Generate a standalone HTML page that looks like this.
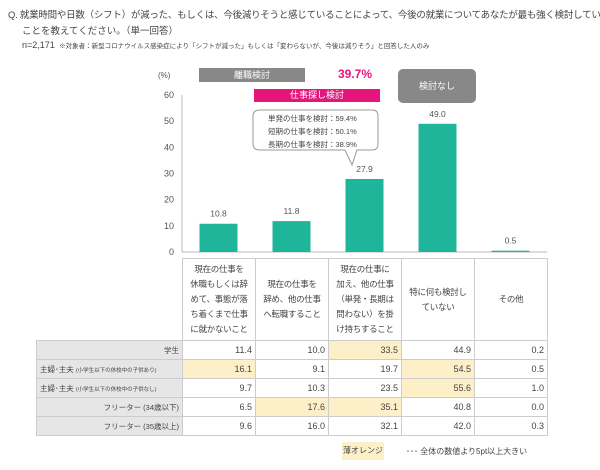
<!DOCTYPE html>
<html><head><meta charset="utf-8"><style>
body{margin:0;width:600px;height:470px;background:#fff;font-family:"Liberation Sans","Noto Sans CJK JP",sans-serif;color:#444;overflow:hidden;position:relative}
.t{position:absolute;white-space:nowrap}
table{position:absolute;left:36px;top:258px;border-collapse:collapse;font-size:9px;table-layout:fixed;width:511px}
td{border:1px solid #ccc;height:19px;padding:0 3px;text-align:right;white-space:nowrap;overflow:hidden;box-sizing:border-box}
td.h{background:#e6e6e6;font-size:7.5px}
td.o{background:#fdefc8}
tr.head td{height:82px;text-align:center;font-size:8.5px;line-height:15px;vertical-align:middle;padding:0;letter-spacing:-0.3px}
tr.head td.blank{border:none;border-bottom:1px solid #ccc;background:none}
</style></head><body>
<div class="t" style="left:8px;top:7px;font-size:9.5px;letter-spacing:-0.25px">Q. 就業時間や日数（シフト）が減った、もしくは、今後減りそうと感じていることによって、今後の就業についてあなたが最も強く検討している</div>
<div class="t" style="left:22px;top:23px;font-size:9.5px">ことを教えてください。（単一回答）</div>
<div class="t" style="left:22px;top:40px;font-size:9px">n=2,171 <span style="font-size:6.5px">&nbsp;※対象者：新型コロナウイルス感染症により「シフトが減った」もしくは「変わらないが、今後は減りそう」と回答した人のみ</span></div>
<svg id="c" width="600" height="470" style="position:absolute;left:0;top:0"></svg>
<table>
<colgroup><col style="width:146px"><col style="width:73px"><col style="width:73px"><col style="width:73px"><col style="width:73px"><col style="width:73px"></colgroup>
<tr class="head"><td class="blank"></td><td>現在の仕事を<br>休職もしくは辞<br>めて、事態が落<br>ち着くまで仕事<br>に就かないこと</td><td>現在の仕事を<br>辞め、他の仕事<br>へ転職すること</td><td>現在の仕事に<br>加え、他の仕事<br>（単発・長期は<br>問わない）を掛<br>け持ちすること</td><td>特に何も検討し<br>ていない</td><td>その他</td></tr>
<tr><td class="h">学生</td><td>11.4</td><td>10.0</td><td class="o">33.5</td><td>44.9</td><td>0.2</td></tr>
<tr><td class="h" style="text-align:left">主婦･主夫 <span style="font-size:5.5px">(小学生以下の休校中の子供あり)</span></td><td class="o">16.1</td><td>9.1</td><td>19.7</td><td class="o">54.5</td><td>0.5</td></tr>
<tr><td class="h" style="text-align:left">主婦･主夫 <span style="font-size:5.5px">(小学生以下の休校中の子供なし)</span></td><td>9.7</td><td>10.3</td><td>23.5</td><td class="o">55.6</td><td>1.0</td></tr>
<tr><td class="h">フリーター (34歳以下)</td><td>6.5</td><td class="o">17.6</td><td class="o">35.1</td><td>40.8</td><td>0.0</td></tr>
<tr><td class="h">フリーター (35歳以上)</td><td>9.6</td><td>16.0</td><td>32.1</td><td>42.0</td><td>0.3</td></tr>
</table>
<div class="t" style="left:342px;top:442px;width:42px;height:18px;background:#fdefc8;font-size:8px;line-height:18px;text-align:center">薄オレンジ</div>
<div class="t" style="left:406px;top:446px;font-size:8px">･･･ 全体の数値より5pt以上大きい</div>
<script>
const categories=["休職・辞職","転職","掛け持ち","検討なし","その他"];
const values=[10.8,11.8,27.9,49.0,0.5];
const ticks=[0,10,20,30,40,50,60];
const svg=document.getElementById('c');const NS="http://www.w3.org/2000/svg";
const y0=252,y60=95,x0=182,cw=73;
const y=v=>y0-(v/60)*(y0-y60);
function mk(t,a,txt){const e=document.createElementNS(NS,t);for(const k in a)e.setAttribute(k,a[k]);if(txt!=null)e.textContent=txt;svg.appendChild(e);return e;}
let ax=mk('line',{x1:x0,y1:y(60),x2:x0,y2:y0,stroke:'#bbb'});


let bl=mk('line',{x1:x0,y1:y0,x2:x0+cw*5,y2:y0,stroke:'#bbb'});


ticks.forEach(t=>{let e=mk('text',{x:x0-8,y:y(t)+3,'text-anchor':'end','font-size':9,fill:'#555'},t);

});
let u=mk('text',{x:158,y:78,'font-size':8,fill:'#555'},'(%)');


values.forEach((v,i)=>{const cx=x0+cw*(i+0.5);
let r=mk('rect',{x:cx-19,y:y(v),width:38,height:y0-y(v),fill:'#1fb59b'});


let l=mk('text',{x:cx,y:y(v)-7,'text-anchor':'middle','font-size':8.5,fill:'#555'},v.toFixed(1));

});
</script>
<div class="t" style="left:199px;top:68px;width:106px;height:14px;background:#888;color:#fff;font-size:9px;line-height:14px;text-align:center">離職検討</div>
<div class="t" style="left:338px;top:67px;color:#e6157a;font-weight:bold;font-size:12px">39.7%</div>
<div class="t" style="left:254px;top:89px;width:126px;height:13px;background:#e6157a;color:#fff;font-size:9px;line-height:13px;text-align:center">仕事探し検討</div>
<div class="t" style="left:398px;top:69px;width:78px;height:34px;border-radius:5px;background:#888;color:#fff;font-size:9px;line-height:34px;text-align:center">検討なし</div>
<svg width="600" height="470" style="position:absolute;left:0;top:0"><path d="M260 110 H372 Q378 110 378 116 V144 Q378 150 372 150 H357 L352 165 L345 150 H260 Q253 150 253 144 V116 Q253 110 260 110Z" fill="#fff" stroke="#999"/></svg>
<div class="t" style="left:268px;top:112px;font-size:7.5px;line-height:13px">単発の仕事を検討：59.4%<br>短期の仕事を検討：50.1%<br>長期の仕事を検討：38.9%</div>
</body></html>
